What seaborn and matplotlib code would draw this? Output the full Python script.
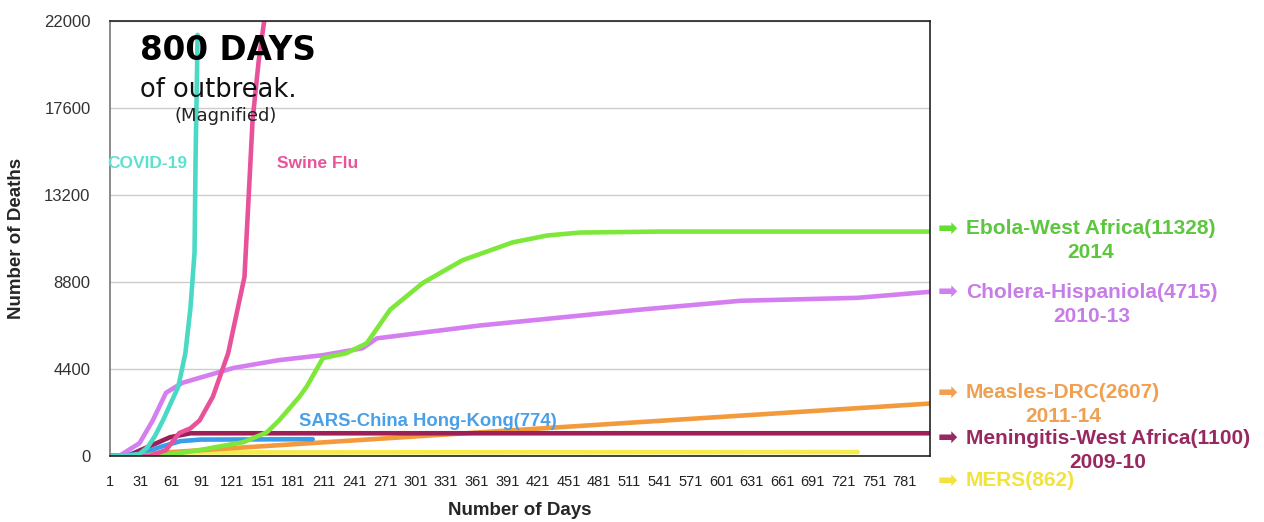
import pandas as pd
import seaborn as sns
import matplotlib.pyplot as plt

# deaths, per outbreak (day -> cumulative deaths)
covid_days = [1, 20, 30, 38, 45, 53, 60, 68, 75, 80, 84, 85, 87]
covid_deaths = [0, 0, 100, 450, 1000, 1800, 2600, 3500, 5200, 7500, 10300, 15000, 21300]

swine_days = [1, 40, 56, 69, 80, 89, 102, 117, 133, 137, 141, 147, 154]
swine_deaths = [0, 0, 300, 1160, 1400, 1800, 3000, 5200, 9050, 13000, 17000, 20000, 22600]

cholera_days = [1, 10, 30, 43, 56, 72, 122, 167, 210, 249, 263, 364, 521, 620, 735, 805]
cholera_deaths = [0, 0, 650, 1800, 3200, 3700, 4450, 4850, 5100, 5450, 5950, 6600, 7400, 7850, 8000, 8300]

ebola_days = [1, 60, 89, 132, 155, 167, 187, 194, 210, 233, 253, 276, 308, 347, 396, 430, 462, 541, 805]
ebola_deaths = [0, 80, 300, 700, 1200, 1800, 3000, 3500, 4950, 5200, 5700, 7400, 8750, 9900, 10800, 11150, 11300, 11350, 11350]

sars_days = [1, 30, 50, 70, 90, 200]
sars_deaths = [0, 100, 450, 750, 830, 850]

mening_days = [1, 20, 40, 60, 80, 805]
mening_deaths = [0, 50, 500, 950, 1150, 1150]

measles_days = [1, 805]
measles_deaths = [0, 2650]

mers_days = [1, 60, 735]
mers_deaths = [0, 180, 200]

y_ticks = [0, 4400, 8800, 13200, 17600, 22000]
x_ticks = list(range(1, 782, 30))

series = {
    "MERS": (mers_days, mers_deaths),
    "Measles": (measles_days, measles_deaths),
    "Meningitis": (mening_days, mening_deaths),
    "SARS": (sars_days, sars_deaths),
    "Cholera": (cholera_days, cholera_deaths),
    "Ebola": (ebola_days, ebola_deaths),
    "Swine Flu": (swine_days, swine_deaths),
    "COVID-19": (covid_days, covid_deaths),
}
colors = {
    "MERS": "#f5ec4a",
    "Measles": "#f39a3c",
    "Meningitis": "#9c1f55",
    "SARS": "#3b9cec",
    "Cholera": "#d57ef0",
    "Ebola": "#7de83a",
    "Swine Flu": "#e8529a",
    "COVID-19": "#4ad9c5",
}

rows = []
for name, (d, v) in series.items():
    for a, b in zip(d, v):
        rows.append({"disease": name, "day": a, "deaths": b})
df = pd.DataFrame(rows)

sns.set_style("white")
plt.rcParams["font.family"] = ["Liberation Sans", "DejaVu Sans"]

fig = plt.figure(figsize=(12.64, 5.22), dpi=100)
ax = fig.add_axes([110 / 1264, 66 / 522, 820 / 1264, 435 / 522])

sns.lineplot(data=df, x="day", y="deaths", hue="disease", hue_order=list(series.keys()),
             palette=colors, linewidth=3.3, legend=False, ax=ax, sort=False)

ax.set_xlim(1, 806)
ax.set_ylim(0, 22000)
ax.set_yticks(y_ticks)
ax.set_yticklabels([str(t) for t in y_ticks], fontsize=12, color="#333333")
ax.set_xticks(x_ticks)
ax.set_xticklabels([str(t) for t in x_ticks], fontsize=10.5, color="#222222")
ax.tick_params(axis="both", length=0)
ax.tick_params(axis="y", pad=14)
ax.tick_params(axis="x", pad=14)
ax.grid(axis="y", color="#cccccc", linewidth=1)
ax.set_axisbelow(True)
for s in ax.spines.values():
    s.set_visible(True)
    s.set_color("#222222")
    s.set_linewidth(1.2)
ax.spines["left"].set_color("#777777")

ax.set_xlabel("Number of Days", fontsize=13.5, fontweight="bold", labelpad=9)
ax.set_ylabel("Number of Deaths", fontsize=13.5, fontweight="bold", labelpad=14)


def px(x, y):
    return x / 1264, 1 - y / 522


# heading inside the plot
fig.text(*px(140, 50), "800 DAYS", fontsize=23.5, fontweight="heavy", family="DejaVu Sans",
         va="center", ha="left", color="black")
fig.text(*px(140, 90), "of outbreak.", fontsize=18.5, family="DejaVu Sans",
         va="center", ha="left", color="#111111")
fig.text(*px(226, 116), "(Magnified)", fontsize=13, family="DejaVu Sans",
         va="center", ha="center", color="#222222")

# in-plot series labels
fig.text(*px(147, 163), "COVID-19", fontsize=12.5, fontweight="bold", color="#5ee0d0",
         ha="center", va="center")
fig.text(*px(318, 163), "Swine Flu", fontsize=12.5, fontweight="bold", color="#e8559a",
         ha="center", va="center")
fig.text(*px(428, 421), "SARS-China Hong-Kong(774)", fontsize=13.3, fontweight="bold",
         color="#4aa0e8", ha="center", va="center")

# right side labels
right_labels = [
    ("Ebola-West Africa(11328)", "2014", 229, "#5cc63e", "#66dd33"),
    ("Cholera-Hispaniola(4715)", "2010-13", 292, "#c77de6", "#d07ff0"),
    ("Measles-DRC(2607)", "2011-14", 393, "#f0a050", "#f0a050"),
    ("Meningitis-West Africa(1100)", "2009-10", 438, "#9a2860", "#9a2860"),
    ("MERS(862)", None, 481, "#f2e33c", "#f2e33c"),
]
fig.canvas.draw()
for name, years, yy, tc, ac in right_labels:
    fig.text(*px(948, yy), "\u27a1", fontsize=17, color=ac, ha="center", va="center",
             family="DejaVu Sans")
    t = fig.text(*px(966, yy), name, fontsize=15, fontweight="bold", color=tc,
                 ha="left", va="center")
    if years:
        bb = t.get_window_extent(renderer=fig.canvas.get_renderer())
        cx = (bb.x0 + bb.x1) / 2 / fig.dpi / fig.get_figwidth()
        fig.text(cx, 1 - (yy + 24) / 522, years, fontsize=15, fontweight="bold", color=tc,
                 ha="center", va="center")

fig.savefig("out.png", dpi=100)
